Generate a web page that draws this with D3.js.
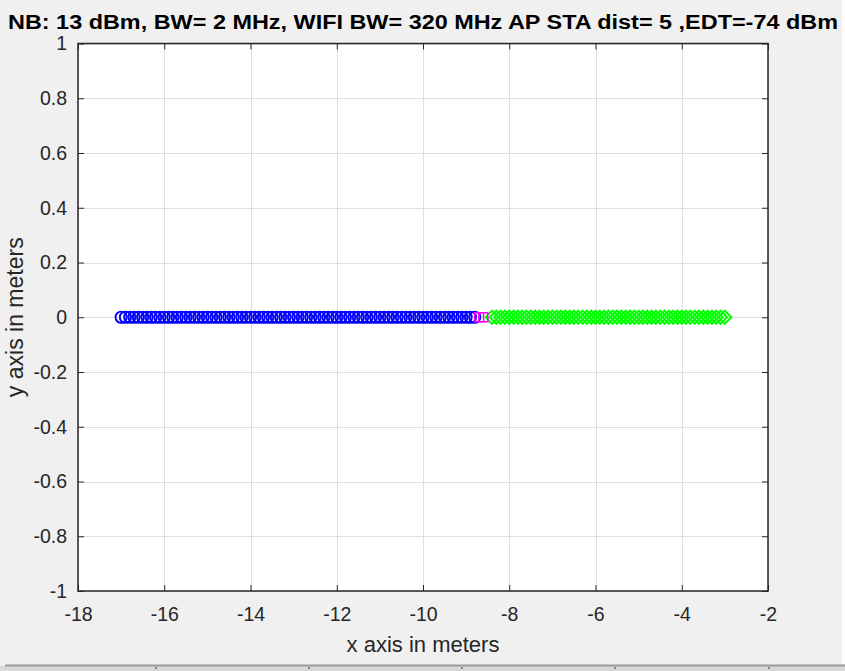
<!DOCTYPE html>
<html><head><meta charset="utf-8">
<script src="https://cdn.jsdelivr.net/npm/d3@7"></script>
<style>body{margin:0;background:#f0f0f0;overflow:hidden}svg{display:block}</style>
</head><body>
<script>
const titleText = "NB: 13 dBm, BW= 2 MHz, WIFI BW= 320 MHz AP STA dist= 5 ,EDT=-74 dBm";
const xLabel = "x axis in meters";
const yLabel = "y axis in meters";
const xTicks = [-18,-16,-14,-12,-10,-8,-6,-4,-2];
const yTicks = [-1,-0.8,-0.6,-0.4,-0.2,0,0.2,0.4,0.6,0.8,1];
const yTickLabels = ["-1","-0.8","-0.6","-0.4","-0.2","0","0.2","0.4","0.6","0.8","1"];
const xTickLabels = ["-18","-16","-14","-12","-10","-8","-6","-4","-2"];
// blue circles (x positions, y = 0)
const blueX = [-17.0,-16.9,-16.8,-16.7,-16.6,-16.5,-16.4,-16.3,-16.2,-16.1,-16.0,-15.9,-15.8,-15.7,-15.6,-15.5,-15.4,-15.3,-15.2,-15.1,-15.0,-14.9,-14.8,-14.7,-14.6,-14.5,-14.4,-14.3,-14.2,-14.1,-14.0,-13.9,-13.8,-13.7,-13.6,-13.5,-13.4,-13.3,-13.2,-13.1,-13.0,-12.9,-12.8,-12.7,-12.6,-12.5,-12.4,-12.3,-12.2,-12.1,-12.0,-11.9,-11.8,-11.7,-11.6,-11.5,-11.4,-11.3,-11.2,-11.1,-11.0,-10.9,-10.8,-10.7,-10.6,-10.5,-10.4,-10.3,-10.2,-10.1,-10.0,-9.9,-9.8,-9.7,-9.6,-9.5,-9.4,-9.3,-9.2,-9.1,-9.0,-8.9,-8.8];
const blueY = blueX.map(() => 0);
// magenta squares
const magentaX = [-8.7,-8.6];
const magentaY = [0,0];
// green diamonds
const greenX = [-8.4,-8.3,-8.2,-8.1,-8.0,-7.9,-7.8,-7.7,-7.6,-7.5,-7.4,-7.3,-7.2,-7.1,-7.0,-6.9,-6.8,-6.7,-6.6,-6.5,-6.4,-6.3,-6.2,-6.1,-6.0,-5.9,-5.8,-5.7,-5.6,-5.5,-5.4,-5.3,-5.2,-5.1,-5.0,-4.9,-4.8,-4.7,-4.6,-4.5,-4.4,-4.3,-4.2,-4.1,-4.0,-3.9,-3.8,-3.7,-3.6,-3.5,-3.4,-3.3,-3.2,-3.1,-3.0];
const greenY = greenX.map(() => 0);

const W = 845, H = 671;
const L = 78, R = 768, T = 43.5, B = 591;
const svg = d3.select("body").append("svg").attr("width", W).attr("height", H);
svg.append("rect").attr("width", W).attr("height", H).attr("fill", "#f0f0f0");
svg.append("rect").attr("x", 842).attr("y", 0).attr("width", 3).attr("height", 664).attr("fill", "#fbfbfb");

const x = d3.scaleLinear().domain([-18, -2]).range([L, R]);
const y = d3.scaleLinear().domain([-1, 1]).range([B, T]);
const font = "'Liberation Sans', Arial, Helvetica, sans-serif";
const axCol = "#262626";

svg.append("rect").attr("x", L).attr("y", T).attr("width", R - L).attr("height", B - T).attr("fill", "#fff");

// grid
const g = svg.append("g");
g.selectAll(".vg").data(xTicks).join("line")
  .attr("x1", d => Math.round(x(d)) + 0.5).attr("x2", d => Math.round(x(d)) + 0.5)
  .attr("y1", T).attr("y2", B).attr("stroke", "#dfdfdf").attr("stroke-width", 1);
g.selectAll(".hg").data(yTicks).join("line")
  .attr("y1", d => Math.round(y(d)) + 0.5).attr("y2", d => Math.round(y(d)) + 0.5)
  .attr("x1", L).attr("x2", R).attr("stroke", "#dfdfdf").attr("stroke-width", 1);

// axes with d3 axis (ticks inward)
const xAxisB = d3.axisBottom(x).tickValues(xTicks).tickSize(-6).tickPadding(16).tickFormat((d, i) => xTickLabels[i]);
const xAxisT = d3.axisTop(x).tickValues(xTicks).tickSize(-6).tickFormat("");
const yAxisL = d3.axisLeft(y).tickValues(yTicks).tickSize(-6).tickPadding(11).tickFormat((d, i) => yTickLabels[i]);
const yAxisR = d3.axisRight(y).tickValues(yTicks).tickSize(-6).tickFormat("");

function style(sel) {
  sel.select(".domain").remove();
  sel.selectAll("line").attr("stroke", axCol).attr("stroke-width", 1);
  sel.selectAll("text").attr("fill", axCol).style("font-family", font).style("font-size", "19.5px");
}
svg.append("g").attr("transform", `translate(0,${B})`).call(xAxisB).call(style)
  .selectAll("text").attr("dy", "0.71em");
svg.append("g").attr("transform", `translate(0,${T})`).call(xAxisT).call(style);
svg.append("g").attr("transform", `translate(${L},0)`).call(yAxisL).call(style);
svg.append("g").attr("transform", `translate(${R},0)`).call(yAxisR).call(style);

// box
svg.append("rect").attr("x", L).attr("y", T).attr("width", R - L).attr("height", B - T)
  .attr("fill", "none").attr("stroke", axCol).attr("stroke-width", 1.5);

// data
const plot = svg.append("g");
const r = 5.6;
plot.selectAll(".g").data(greenX.map((d, i) => [d, greenY[i]])).join("path")
  .attr("d", d => { const cx = x(d[0]), cy = y(d[1]), s = 6.5; return `M${cx - s},${cy}L${cx},${cy - s}L${cx + s},${cy}L${cx},${cy + s}Z`; })
  .attr("fill", "none").attr("stroke", "#00ff00").attr("stroke-width", 2);
plot.selectAll(".b").data(blueX.map((d, i) => [d, blueY[i]])).join("circle")
  .attr("cx", d => x(d[0])).attr("cy", d => y(d[1])).attr("r", r)
  .attr("fill", "none").attr("stroke", "#0000ff").attr("stroke-width", 1.9);
plot.selectAll(".m").data(magentaX.map((d, i) => [d, magentaY[i]])).join("rect")
  .attr("x", d => x(d[0]) - 4.5).attr("y", d => y(d[1]) - 4.5).attr("width", 9).attr("height", 9)
  .attr("fill", "none").attr("stroke", "#ff00ff").attr("stroke-width", 1.5);

// labels
svg.append("text").attr("x", 423).attr("y", 29).attr("text-anchor", "middle")
  .attr("textLength", 830).attr("lengthAdjust", "spacingAndGlyphs")
  .style("font-family", font).style("font-size", "20px").style("font-weight", "bold").attr("fill", "#000")
  .text(titleText);
svg.append("text").attr("x", 423).attr("y", 652).attr("text-anchor", "middle")
  .style("font-family", font).style("font-size", "22px").attr("fill", axCol).text(xLabel);
svg.append("text").attr("transform", `translate(23,${(T + B) / 2}) rotate(-90)`).attr("text-anchor", "middle")
  .style("font-family", font).style("font-size", "23px").attr("fill", axCol).text(yLabel);

// bottom toolbar strip
svg.append("rect").attr("x", 0).attr("y", 666).attr("width", W).attr("height", 5).attr("fill", "#d9d9d9");
svg.append("line").attr("x1", 5).attr("x2", W).attr("y1", 665.5).attr("y2", 665.5).attr("stroke", "#9a9a9a").attr("stroke-width", 2);
const stripTicks = [156, 309, 462, 615, 769];
svg.selectAll(".st").data(stripTicks).join("line")
  .attr("x1", d => d).attr("x2", d => d).attr("y1", 667).attr("y2", 669).attr("stroke", "#333").attr("stroke-width", 1);
</script>
</body></html>
